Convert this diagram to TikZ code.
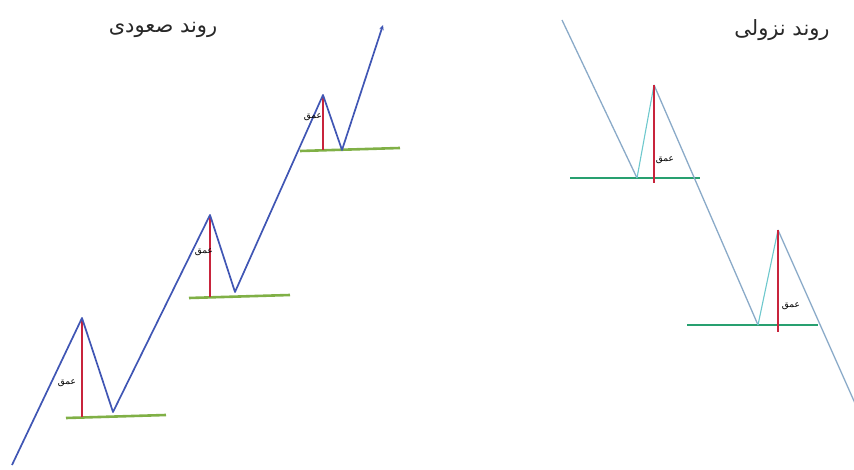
\documentclass[tikz,border=0pt]{standalone}
\usepackage{fontspec}
\usepackage{xcolor}
\usepackage{tikz}
\usetikzlibrary{arrows.meta}
\newfontfamily\arabicfont[Script=Arabic]{DejaVu Sans}
\TeXXeTstate=1
\definecolor{uptrend}{RGB}{64,86,180}
\definecolor{downtrend}{RGB}{138,170,200}
\definecolor{pullback}{RGB}{110,200,205}
\definecolor{supportup}{RGB}{128,176,70}
\definecolor{supportdown}{RGB}{40,160,112}
\definecolor{depthred}{RGB}{200,36,60}
\definecolor{titlegray}{RGB}{40,40,40}

\begin{document}
\begin{tikzpicture}[x=1pt, y=-1pt, upleg/.style={draw=uptrend, line width=1.7pt, line join=round}, downleg/.style={draw=downtrend, line width=1.3pt}, backleg/.style={draw=pullback, line width=1.1pt}, baseup/.style={draw=supportup, line width=2.6pt}, basedown/.style={draw=supportdown, line width=2.2pt}, depthline/.style={draw=depthred, line width=1.4pt}, depthlabel/.style={inner sep=0pt, font=\arabicfont\fontsize{9}{10}\selectfont}, title/.style={inner sep=1pt, text=titlegray, font=\arabicfont\fontsize{21}{24}\selectfont}]
\useasboundingbox (0,0) rectangle (854,470);
% uptrend
\coordinate (u0) at (12,465);
\coordinate (up1) at (82,318);
\coordinate (ut1) at (113,412);
\coordinate (up2) at (210,215);
\coordinate (ut2) at (235,292);
\coordinate (up3) at (323,95);
\coordinate (ut3) at (342,150);
\coordinate (uend) at (383,25);
\coordinate (ub1) at (82,417);
\coordinate (ub2) at (210,297);
\coordinate (ub3) at (323,150);
\coordinate (ul1) at (66,418);
\coordinate (ur1) at (166,415);
\coordinate (ul2) at (189,298);
\coordinate (ur2) at (290,295);
\coordinate (ul3) at (300,151);
\coordinate (ur3) at (400,148);
\draw[baseup] (ul1) -- (ur1);
\draw[baseup] (ul2) -- (ur2);
\draw[baseup] (ul3) -- (ur3);
\draw[depthline] (up1) -- (ub1);
\draw[depthline] (up2) -- (ub2);
\draw[depthline] (up3) -- (ub3);
\draw[upleg, -{Stealth[length=5pt, width=4.5pt]}] (u0) -- (up1) -- (ut1) -- (up2) -- (ut2) -- (up3) -- (ut3) -- (uend);
\node[depthlabel] (ud1) at (67,383) {\beginR عمق\endR};
\node[depthlabel] (ud2) at (204,252) {\beginR عمق\endR};
\node[depthlabel] (ud3) at (313,117) {\beginR عمق\endR};
\node[title] (uptitle) at (163,30) {\beginR روند صعودی\endR};
% downtrend
\coordinate (d0) at (562,20);
\coordinate (dt1) at (637,178);
\coordinate (dp1) at (654,85);
\coordinate (dt2) at (758,325);
\coordinate (dp2) at (778,230);
\coordinate (dend) at (858,410);
\coordinate (db1) at (654,183);
\coordinate (db2) at (778,332);
\coordinate (dl1) at (570,178);
\coordinate (dr1) at (700,178);
\coordinate (dl2) at (687,325);
\coordinate (dr2) at (818,325);
\draw[basedown] (dl1) -- (dr1);
\draw[basedown] (dl2) -- (dr2);
\draw[downleg] (d0) -- (dt1);
\draw[backleg] (dt1) -- (dp1);
\draw[downleg] (dp1) -- (dt2);
\draw[backleg] (dt2) -- (dp2);
\draw[downleg] (dp2) -- (dend);
\draw[depthline] (dp1) -- (db1);
\draw[depthline] (dp2) -- (db2);
\node[depthlabel] (dd1) at (665,160) {\beginR عمق\endR};
\node[depthlabel] (dd2) at (791,306) {\beginR عمق\endR};
\node[title] (downtitle) at (782,30) {\beginR روند نزولی\endR};
\end{tikzpicture}
\end{document}
